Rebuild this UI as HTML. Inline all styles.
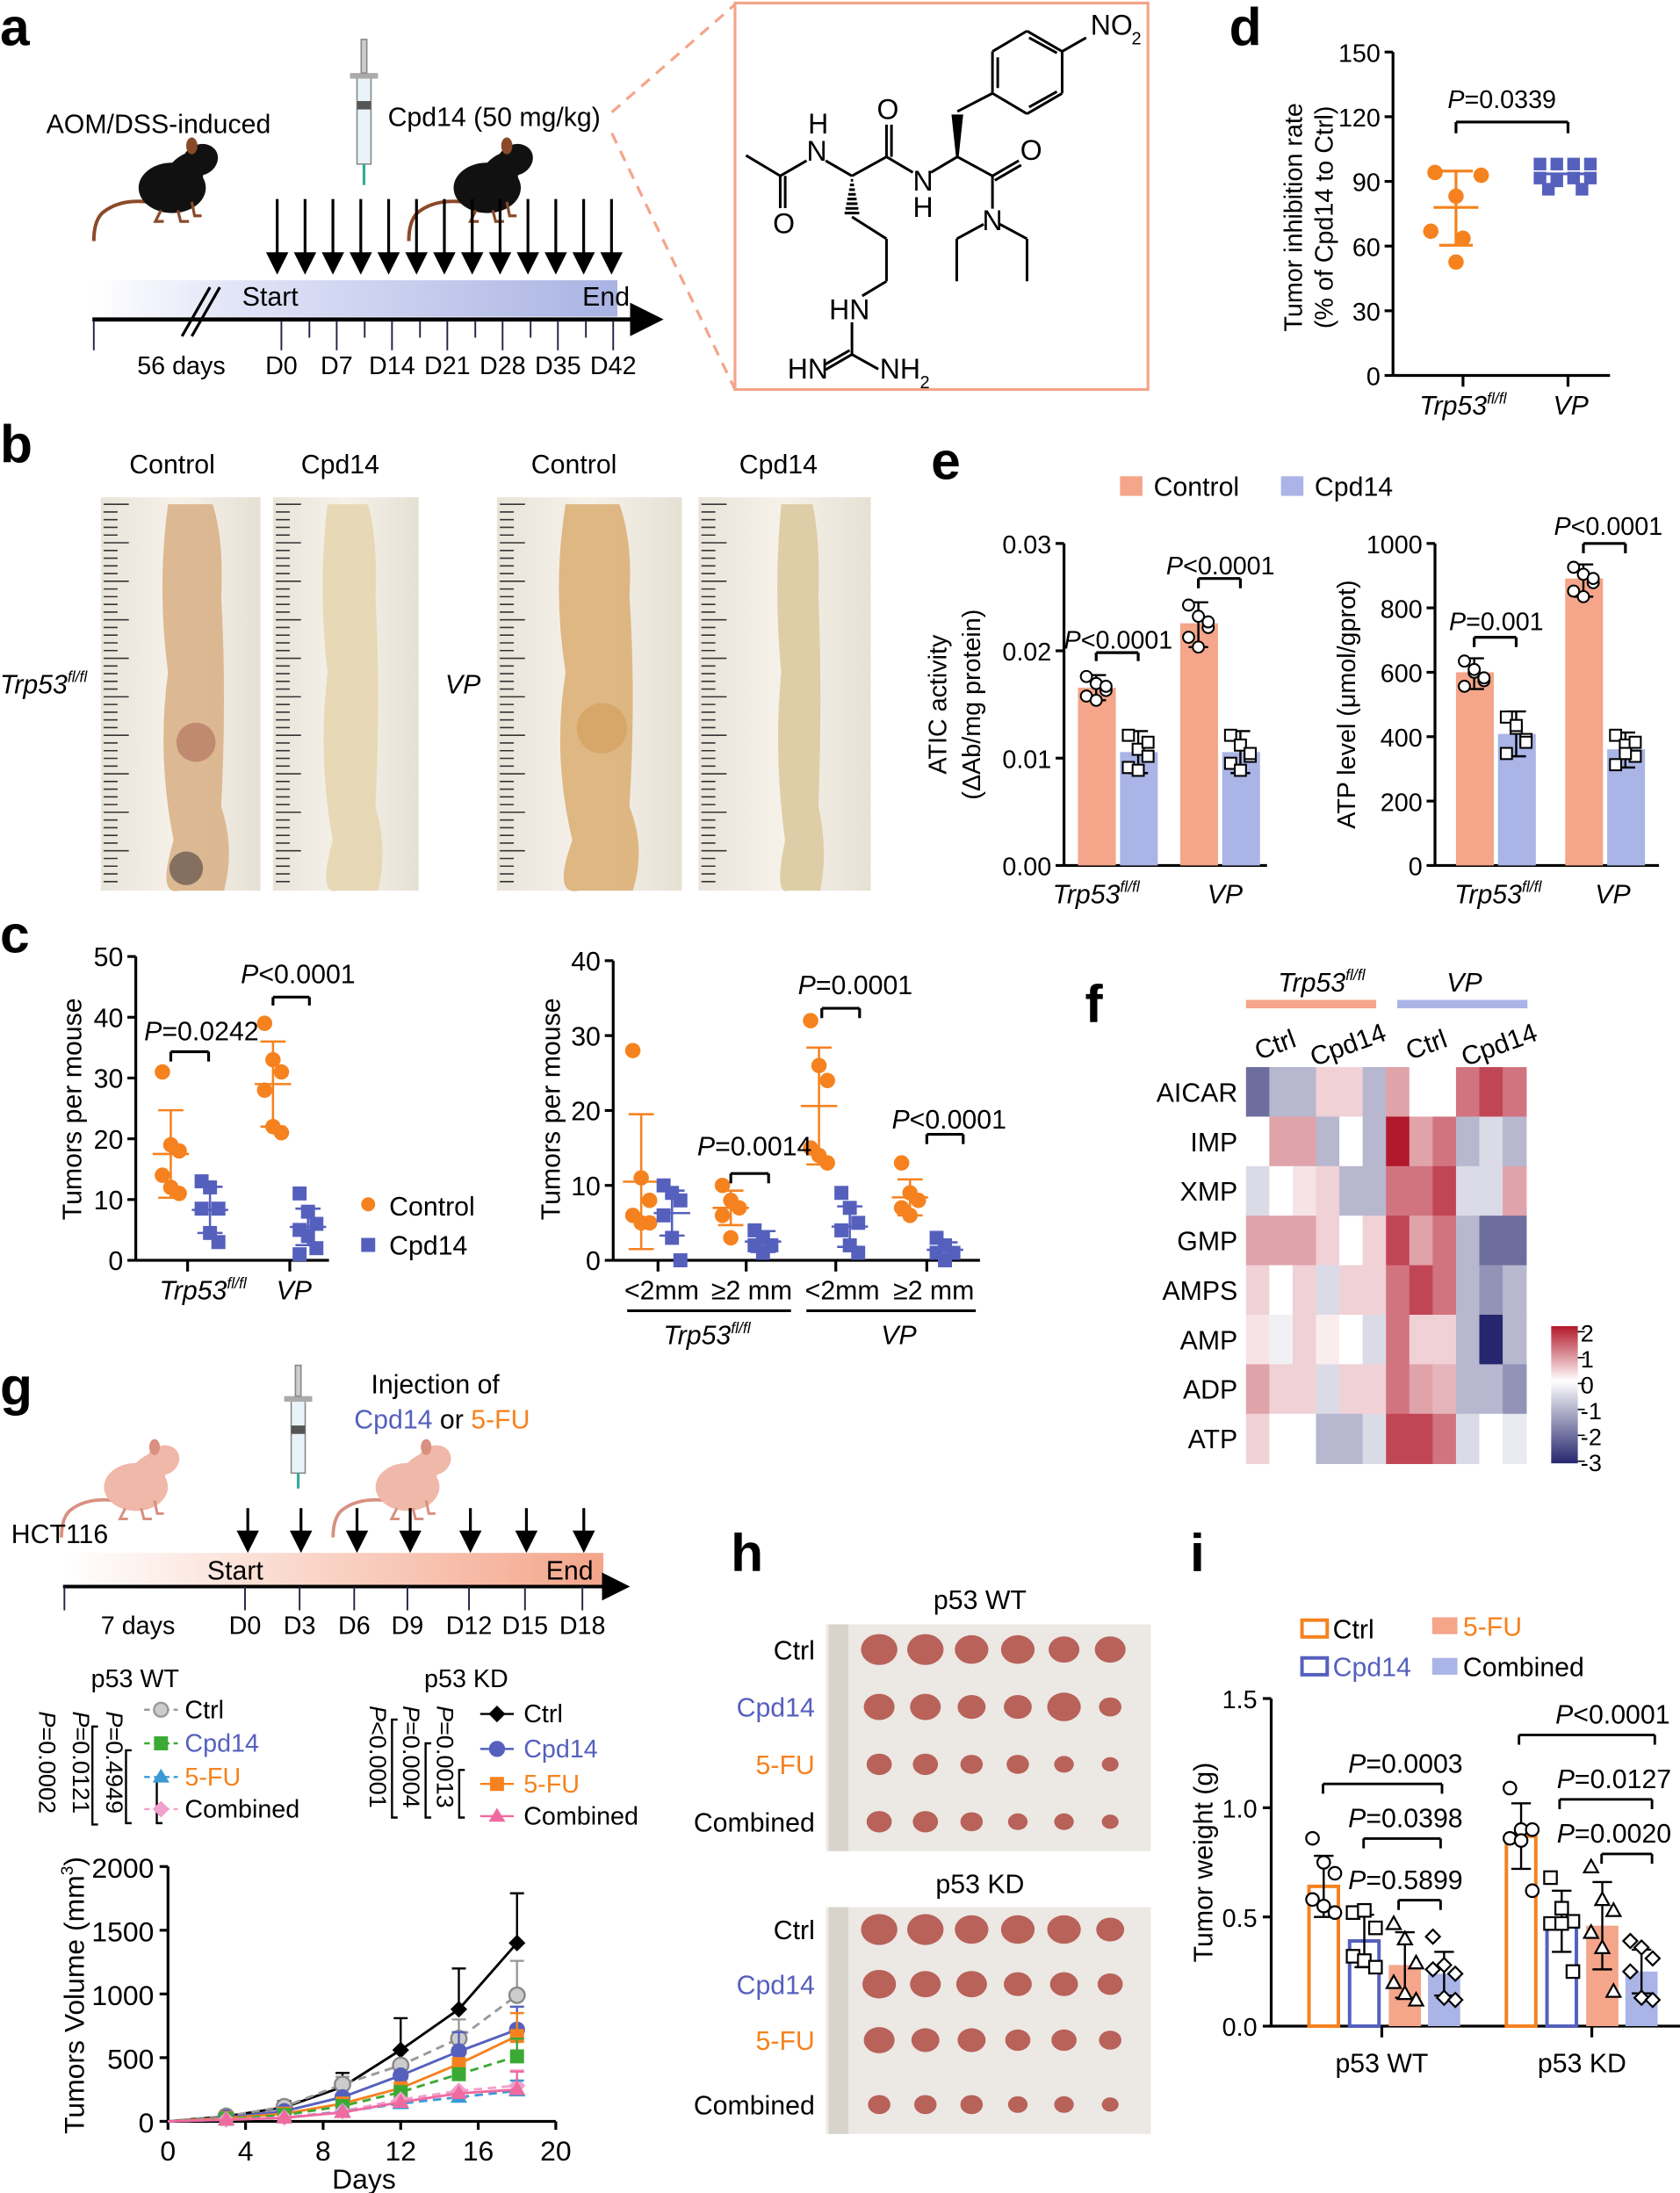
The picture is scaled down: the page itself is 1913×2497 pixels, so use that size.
<!DOCTYPE html>
<html><head><meta charset="utf-8">
<style>
html,body{margin:0;padding:0;background:#fff;}
svg{display:block;font-family:"Liberation Sans",Arial,sans-serif;}
</style></head>
<body>
<svg id="s" width="1913" height="2497" viewBox="0 0 1200 1566" xmlns="http://www.w3.org/2000/svg">
<defs>
<linearGradient id="gA" x1="0" x2="1"><stop offset="0" stop-color="#fff"/><stop offset="0.3" stop-color="#dfe2f6"/><stop offset="1" stop-color="#a9b3e3"/></linearGradient>
<linearGradient id="gG" x1="0" x2="1"><stop offset="0" stop-color="#fff"/><stop offset="1" stop-color="#f4a58a"/></linearGradient>
<linearGradient id="cb" x1="0" y1="0" x2="0" y2="1"><stop offset="0" stop-color="#b2182b"/><stop offset="0.4" stop-color="#fff"/><stop offset="1" stop-color="#26266e"/></linearGradient>
<linearGradient id="col" x1="0" x2="1"><stop offset="0" stop-color="#e9e4da"/><stop offset="0.5" stop-color="#f6f2ea"/><stop offset="1" stop-color="#e6e0d4"/></linearGradient>
<marker id="ah" markerWidth="8" markerHeight="8" refX="6" refY="4" orient="auto"><path d="M0,0 L8,4 L0,8z" fill="#000"/></marker>
</defs>
<g id="root" font-size="19"></g>
</svg>
<script>
var o=[];
function t(x,y,s,a){o.push('<text x="'+x+'" y="'+y+'" '+(a||'')+'>'+s+'</text>');}
function l(x1,y1,x2,y2,a){a=a||'';var d='';if(a.indexOf('stroke=')<0)d+=' stroke="#000"';if(a.indexOf('stroke-width')<0)d+=' stroke-width="2"';o.push('<line x1="'+x1+'" y1="'+y1+'" x2="'+x2+'" y2="'+y2+'"'+d+' '+a+'/>');}
function r(x,y,w,h,a){o.push('<rect x="'+x+'" y="'+y+'" width="'+w+'" height="'+h+'" '+a+'/>');}
function p(d,a){o.push('<path d="'+d+'" '+a+'/>');}
function c(x,y,rr,a){o.push('<circle cx="'+x+'" cy="'+y+'" r="'+rr+'" '+a+'/>');}
var OR='#f5821f',BL='#5560bd',SAL='#f4a58a',LBL='#aab4e6';
function lab(s,x,y){t(x,y,s,'font-size="38" font-weight="bold"');}
// ---------- a
lab('a',0,32);
t(33,95,'AOM/DSS-induced','font-size="19"');
t(277,90,'Cpd14 (50 mg/kg)','font-size="19"');
function mouse(x,y,fill,tc,s){s=s||1;o.push('<g transform="translate('+x+','+y+') scale('+s+')">'+
 '<path d="M40,52 q-20,-2 -32,8 q-6,6 -6,20" fill="none" stroke="'+tc+'" stroke-width="2.5"/>'+
 '<ellipse cx="58" cy="42" rx="24" ry="18" fill="'+fill+'"/>'+
 '<ellipse cx="78" cy="22" rx="13" ry="11" transform="rotate(-25 78 22)" fill="'+fill+'"/>'+
 '<path d="M58,24 q10,-10 22,-8 l0,20z" fill="'+fill+'"/>'+
 '<ellipse cx="72" cy="12" rx="4" ry="6" fill="'+tc+'"/>'+
 '<path d="M50,58 l-4,8 h6 M62,58 l2,8 h6 M72,52 l2,10 h5" fill="none" stroke="'+tc+'" stroke-width="2"/></g>');}
mouse(65,92,'#111','#8a4a2a');mouse(290,92,'#111','#8a4a2a');
// syringe
r(255,55,10,62,'fill="#e8f4fa" stroke="#888"');r(250,52,20,4,'fill="#aaa"');r(258,28,4,24,'fill="#ccc" stroke="#888"');r(255,72,10,6,'fill="#555"');l(260,117,260,132,'stroke="#3a9" stroke-width="2"');
for(var i=0;i<13;i++){var ax=198+i*19.9;l(ax,142,ax,192,'marker-end="url(#ah)"');}
r(65,200,376,26,'fill="url(#gA)"');
l(66,228,468,228,'stroke-width="3" marker-end="url(#ah)"');
l(130,240,150,205,'stroke-width="2"');l(137,240,157,205,'stroke-width="2"');
t(173,218,'Start');t(416,218,'End');
l(67,229,67,250,'stroke="#224" stroke-width="1.2"');
var dl=['D0','D7','D14','D21','D28','D35','D42'];
for(var i=0;i<7;i++){var x=201+i*39.5;l(x,229,x,250,'stroke="#224" stroke-width="1.2"');if(i<6)l(x+20,229,x+20,241,'stroke="#224" stroke-width="1.2"');t(x,267,dl[i],'text-anchor="middle" font-size="18"');}
t(98,267,'56 days','font-size="18"');
// structure box
r(525,2,295,276,'fill="none" stroke="'+SAL+'" stroke-width="2"');
l(437,80,525,3,'stroke="'+SAL+'" stroke-dasharray="8,6"');l(437,95,525,278,'stroke="'+SAL+'" stroke-dasharray="8,6"');
(function(){var g=[];function L(a,b,c2,d){g.push('<line x1="'+a+'" y1="'+b+'" x2="'+c2+'" y2="'+d+'"/>');}
L(148,530,265,600);L(265,600,265,710);L(282,600,282,710);L(265,600,355,548);L(420,548,510,600);L(510,600,628,535);L(628,535,628,425);L(645,535,645,425);
L(628,535,718,588);L(780,588,870,535);L(870,380,990,318);L(990,318,990,175);L(990,175,1108,105);L(1108,105,1228,175);L(1228,175,1228,318);L(1228,318,1108,388);L(1108,388,990,318);
L(1008,195,1008,300);L(1115,128,1210,180);L(1115,365,1210,312);L(1228,175,1310,128);L(870,535,990,600);L(990,600,1080,548);L(998,615,1088,563);L(990,600,990,712);
L(960,765,868,815);L(868,815,868,960);L(1015,765,1108,815);L(1108,815,1108,960);L(510,740,628,815);L(628,815,628,960);L(628,960,545,1010);L(510,1100,510,1210);L(510,1210,600,1260);L(510,1210,420,1262);L(502,1196,415,1246);
for(var k=0;k<8;k++){var yy=615+k*16,w=4+k*3;L(510-w,yy,510+w,yy);}
o.push('<g transform="translate(501.9,0) scale(0.2091)" stroke="#000" stroke-width="9" font-size="96">'+g.join('')+'<path d="M870,535 L855,395 L885,395z" fill="#000"/>'+
'<g stroke="none"><text x="240" y="795">O</text><text x="360" y="455">H</text><text x="355" y="548">N</text><text x="595" y="405">O</text><text x="718" y="650">N</text><text x="718" y="740">H</text><text x="1085" y="545">O</text><text x="955" y="785">N</text><text x="1325" y="118">NO</text><text x="1465" y="150" font-size="60">2</text><text x="432" y="1090">HN</text><text x="290" y="1292">HN</text><text x="605" y="1292">NH</text><text x="742" y="1325" font-size="60">2</text></g></g>');
})();
// ---------- d
lab('d',878,32);
function yaxis(x,y0,y1,ticks,fs){l(x,y0,x,y1);for(var i=0;i<ticks.length;i++){var yy=y0+(y1-y0)*i/(ticks.length-1);l(x-6,yy,x,yy);t(x-9,yy+7,ticks[i],'text-anchor="end" font-size="'+(fs||19)+'"');}}
yaxis(995,268,37,['0','30','60','90','120','150'],18);
l(995,268,1150,268);l(1045,268,1045,276);l(1120,268,1120,276);
t(930,155,'Tumor inhibition rate','transform="rotate(-90 930 155)" text-anchor="middle" font-size="18"');
t(952,155,'(% of Cpd14 to Ctrl)','transform="rotate(-90 952 155)" text-anchor="middle" font-size="18"');
[[1025,123],[1058,125],[1040,140],[1022,165],[1045,170],[1040,187]].forEach(function(q){c(q[0],q[1],5.5,'fill="'+OR+'"');});
l(1040,122,1040,175,'stroke="'+OR+'"');l(1028,122,1052,122,'stroke="'+OR+'"');l(1024,148,1056,148,'stroke="'+OR+'"');l(1028,175,1052,175,'stroke="'+OR+'"');
[[1100,117],[1112,117],[1124,117],[1136,117],[1100,127],[1112,129],[1124,127],[1136,127],[1106,135],[1130,135]].forEach(function(q){r(q[0]-4.5,q[1]-4.5,9,9,'fill="'+BL+'"');});
l(1104,124,1132,124,'stroke="'+BL+'"');
l(1040,87,1040,95);l(1040,87,1120,87);l(1120,87,1120,95);t(1034,77,'<tspan font-style="italic">P</tspan>=0.0339','font-size="18"');
t(1045,296,'<tspan font-style="italic">Trp53</tspan><tspan font-size="11" dy="-8" font-style="italic">fl/fl</tspan>','text-anchor="middle" font-size="19"');
t(1122,296,'VP','text-anchor="middle" font-style="italic" font-size="19"');
// ---------- b
lab('b',0,330);
t(123,338,'Control','text-anchor="middle"');t(243,338,'Cpd14','text-anchor="middle"');t(410,338,'Control','text-anchor="middle"');t(556,338,'Cpd14','text-anchor="middle"');
t(0,495,'<tspan font-style="italic">Trp53</tspan><tspan font-size="11" dy="-8" font-style="italic">fl/fl</tspan>','font-size="19"');t(318,495,'VP','font-style="italic"');
function photo(x,w,cx,cw,col){r(x,355,w,281,'fill="url(#col)"');
 var rl=[];for(var y=360;y<632;y+=5.5){rl.push('<line x1="'+(x+2)+'" y1="'+y+'" x2="'+(x+((Math.round((y-360)/5.5)%5==0)?20:12))+'" y2="'+y+'"/>');}
 o.push('<g stroke="#333" stroke-width="1">'+rl.join('')+'</g>');
 p('M'+(cx-cw*0.5)+',360 q'+(-cw*0.2)+',60 0,120 q'+(-cw*0.2)+',60 '+(cw*0.1)+',120 q'+(-cw*0.3)+',40 '+(cw*0.1)+',36 l'+(cw*0.8)+',0 q'+(cw*0.2)+',-30 '+(-cw*0.05)+',-60 q'+(cw*0.1)+',-80 0,-150 q'+(cw*0.05)+',-40 '+(-cw*0.15)+',-66z','fill="'+col+'" opacity="0.9"');}
photo(72,114,140,40,'#d9b28a');photo(195,104,252,36,'#e6d6b0');photo(355,132,428,48,'#dcb078');photo(499,123,572,28,'#dccaa0');
c(140,530,14,'fill="#c08a70"');c(430,520,18,'fill="#d4a060" opacity="0.7"');c(133,620,12,'fill="#4a4040" opacity="0.6"');
// ---------- e
lab('e',665,342);
r(800,340,16,14,'fill="'+SAL+'"');t(824,354,'Control');r(915,340,16,14,'fill="'+LBL+'"');t(939,354,'Cpd14');
function ebar(x,w,top,y0,fill){r(x,top,w,y0-top,'fill="'+fill+'"');}
yaxis(760,618,388,['0.00','0.01','0.02','0.03'],18);l(760,618,905,618);
t(676,503,'ATIC activity','transform="rotate(-90 676 503)" text-anchor="middle" font-size="18"');
t(700,503,'(ΔAb/mg protein)','transform="rotate(-90 700 503)" text-anchor="middle" font-size="18"');
function dots(x,ys,shape){ys.forEach(function(yy,i){var xx=x+((i%3)-1)*7;if(shape=='c')c(xx,yy,4,'fill="#fff" stroke="#000" stroke-width="1.3"');else r(xx-4,yy-4,8,8,'fill="#fff" stroke="#000" stroke-width="1.3"');});}
function err(x,a,b,m){l(x,a,x,b,'stroke-width="1.5"');l(x-7,a,x+7,a,'stroke-width="1.5"');l(x-7,b,x+7,b,'stroke-width="1.5"');}
ebar(770,27,491,618,SAL);ebar(800,27,537,618,LBL);ebar(843,27,445,618,SAL);ebar(873,27,537,618,LBL);
err(783,482,500);dots(783,[483,488,493,497,500,490],'c');err(813,522,552);dots(813,[525,535,540,548,550,530],'s');
err(856,430,462);dots(856,[432,440,448,455,462,444],'c');err(886,522,552);dots(886,[525,532,540,545,550,538],'s');
l(783,466,783,472);l(783,466,813,466);l(813,466,813,472);t(760,463,'<tspan font-style="italic">P</tspan>&lt;0.0001','font-size="18"');
l(856,413,856,420);l(856,413,886,413);l(886,413,886,420);t(833,410,'<tspan font-style="italic">P</tspan>&lt;0.0001','font-size="18"');
t(783,645,'<tspan font-style="italic">Trp53</tspan><tspan font-size="11" dy="-8" font-style="italic">fl/fl</tspan>','text-anchor="middle"');t(875,645,'VP','text-anchor="middle" font-style="italic"');
yaxis(1025,618,388,['0','200','400','600','800','1000'],18);l(1025,618,1185,618);
t(968,503,'ATP level (μmol/gprot)','transform="rotate(-90 968 503)" text-anchor="middle" font-size="18"');
ebar(1040,27,480,618,SAL);ebar(1070,27,524,618,LBL);ebar(1118,27,413,618,SAL);ebar(1148,27,535,618,LBL);
err(1053,470,492);dots(1053,[472,480,486,490,478,484],'c');err(1083,508,540);dots(1083,[512,520,528,538,518,530],'s');
err(1131,403,426);dots(1131,[405,410,416,422,426,413],'c');err(1161,523,548);dots(1161,[525,532,540,546,538,530],'s');
l(1053,455,1053,462);l(1053,455,1083,455);l(1083,455,1083,462);t(1035,450,'<tspan font-style="italic">P</tspan>=0.001','font-size="18"');
l(1131,388,1131,395);l(1131,388,1161,388);l(1161,388,1161,395);t(1110,382,'<tspan font-style="italic">P</tspan>&lt;0.0001','font-size="18"');
t(1070,645,'<tspan font-style="italic">Trp53</tspan><tspan font-size="11" dy="-8" font-style="italic">fl/fl</tspan>','text-anchor="middle"');t(1152,645,'VP','text-anchor="middle" font-style="italic"');
// ---------- c
lab('c',0,680);
function dotsC(x,vals,y0,k,shape,col){vals.forEach(function(v,i){var xx=x+((i%3)-1)*6;var yy=y0-v*k;if(shape=='c')c(xx,yy,5.5,'fill="'+col+'"');else r(xx-5,yy-5,10,10,'fill="'+col+'"');});}
function errC(x,m,sd,y0,k,col){l(x,y0-(m+sd)*k,x,y0-(m-sd)*k,'stroke="'+col+'" stroke-width="1.6"');[m+sd,m,m-sd].forEach(function(v,i){var w=i==1?13:9;l(x-w,y0-v*k,x+w,y0-v*k,'stroke="'+col+'" stroke-width="1.6"');});}
yaxis(97,900,683,['0','10','20','30','40','50']);l(97,900,235,900);l(134,900,134,908);l(207,900,207,908);
t(58,792,'Tumors per mouse','transform="rotate(-90 58 792)" text-anchor="middle"');
var k1=4.34;
dotsC(122,[31,19,18,14,12,11],900,k1,'c',OR);errC(122,17.5,7.2,900,k1,OR);
dotsC(150,[13,12,8.5,8.5,4.5,3],900,k1,'s',BL);errC(150,8.3,3.8,900,k1,BL);
dotsC(195,[39,33,31,28,22,21],900,k1,'c',OR);errC(195,29,7,900,k1,OR);
dotsC(220,[11,8,6,5,4,2,1],900,k1,'s',BL);errC(220,5.5,3,900,k1,BL);
l(122,751,122,758);l(122,751,149,751);l(149,751,149,758);t(103,743,'<tspan font-style="italic">P</tspan>=0.0242');
l(195,712,195,718);l(195,712,221,712);l(221,712,221,718);t(172,702,'<tspan font-style="italic">P</tspan>&lt;0.0001');
t(145,928,'<tspan font-style="italic">Trp53</tspan><tspan font-size="11" dy="-8" font-style="italic">fl/fl</tspan>','text-anchor="middle"');t(210,928,'VP','text-anchor="middle" font-style="italic"');
c(263,860,5,'fill="'+OR+'"');t(278,868,'Control');r(258,884,10,10,'fill="'+BL+'"');t(278,896,'Cpd14');
yaxis(438,900,686,['0','10','20','30','40']);l(438,900,700,900);
[470,533,597,662].forEach(function(x){l(x,900,x,908);});
t(400,792,'Tumors per mouse','transform="rotate(-90 400 792)" text-anchor="middle"');
var k2=5.35;
dotsC(458,[28,11,8,6,5,5],900,k2,'c',OR);errC(458,10.5,9,900,k2,OR);
dotsC(480,[10,9,8,6,3,0],900,k2,'s',BL);errC(480,6.3,3,900,k2,BL);
dotsC(522,[10,8,7,6,3],900,k2,'c',OR);errC(522,7,2.3,900,k2,OR);
dotsC(545,[4,3,2,2,1],900,k2,'s',BL);errC(545,2.5,1.4,900,k2,BL);
dotsC(585,[32,26,24,15,14,13],900,k2,'c',OR);errC(585,20.6,7.8,900,k2,OR);
dotsC(607,[9,7,5,4,2,1],900,k2,'s',BL);errC(607,4.5,2.7,900,k2,BL);
dotsC(650,[13,9,8,7,6],900,k2,'c',OR);errC(650,8.4,2.4,900,k2,OR);
dotsC(675,[3,2,1,1,0],900,k2,'s',BL);errC(675,1.4,1,900,k2,BL);
l(522,838,522,845);l(522,838,549,838);l(549,838,549,845);t(498,825,'<tspan font-style="italic">P</tspan>=0.0014');
l(587,720,587,727);l(587,720,614,720);l(614,720,614,727);t(570,710,'<tspan font-style="italic">P</tspan>=0.0001');
l(662,810,662,817);l(662,810,688,810);l(688,810,688,817);t(637,806,'<tspan font-style="italic">P</tspan>&lt;0.0001');
t(446,928,'&lt;2mm');t(508,928,'≥2 mm');t(575,928,'&lt;2mm');t(638,928,'≥2 mm');
l(448,936,565,936);l(576,936,697,936);
t(505,960,'<tspan font-style="italic">Trp53</tspan><tspan font-size="11" dy="-8" font-style="italic">fl/fl</tspan>','text-anchor="middle"');t(642,960,'VP','text-anchor="middle" font-style="italic"');
// ---------- f
lab('f',775,730);
r(890,714,93,6,'fill="'+SAL+'"');r(998,714,93,6,'fill="'+LBL+'"');
t(944,708,'<tspan font-style="italic">Trp53</tspan><tspan font-size="11" dy="-8" font-style="italic">fl/fl</tspan>','text-anchor="middle"');t(1046,708,'VP','text-anchor="middle" font-style="italic"');
[['Ctrl',913],['Cpd14',965],['Ctrl',1021],['Cpd14',1073]].forEach(function(q){t(q[1],752,q[0],'text-anchor="middle" transform="rotate(-20 '+q[1]+' 752)"');});
var rows=['AICAR','IMP','XMP','GMP','AMPS','AMP','ADP','ATP'];
var H=[[-2,-1,-1,0.5,0.5,-1,1,0,0,1.5,2,1.5],[0,1,1,-1,0,-1,2.5,1,1.5,-1,-0.5,-1],[-0.5,0,0.3,0.5,-1,-1,1.5,1.5,2,-0.5,-0.5,1],[1,1,1,0.5,0,0.5,2,1,1.5,-1,-2,-2],[0.5,0,0.5,-0.5,0.5,0.5,1.5,2,1.5,-1,-1.5,-1],[0.3,-0.2,0.5,0.2,0,-0.5,1.5,0.5,0.5,-1,-3,-1],[1,0.5,0.5,-0.5,0.5,0.5,1.5,1,0.8,-1,-1,-1.5],[0.5,0,0,-1,-1,-0.5,2,2,1.5,-0.5,0,-0.3]];
function hc(v){var a,b;if(v>=0){var f=Math.min(v/2.5,1);a=[255,255,255];b=[178,24,43];}else{var f=Math.min(-v/3,1);a=[255,255,255];b=[38,38,110];}return 'rgb('+a.map(function(z,i){return Math.round(z+(b[i]-z)*f);}).join(',')+')';}
var cw=200/12,rh=283/8;
for(var i=0;i<8;i++){t(884,762+rh*i+rh/2+7,rows[i],'text-anchor="end"');for(var j=0;j<12;j++)r(890+j*cw,762+i*rh,cw+0.5,rh+0.5,'fill="'+hc(H[i][j])+'"');}
r(1108,947,19,98,'fill="url(#cb)"');
['2','1','0','-1','-2','-3'].forEach(function(s,i){var yy=951+i*18.5;l(1127,yy,1132,yy,'stroke-width="1"');t(1129,yy+7,s,'font-size="17"');});
// ---------- g
lab('g',0,1003);
mouse(42,1022,'#f0b8a8','#d99080',0.95);mouse(236,1022,'#f0b8a8','#d99080',0.95);
r(208,1000,10,52,'fill="#e8f4fa" stroke="#888"');r(203,997,20,4,'fill="#aaa"');r(211,975,4,22,'fill="#ccc" stroke="#888"');r(208,1018,10,6,'fill="#555"');l(213,1052,213,1063,'stroke="#3a9"');
t(265,995,'Injection of');t(253,1020,'<tspan fill="'+BL+'">Cpd14</tspan> or <tspan fill="'+OR+'">5-FU</tspan>');
t(8,1102,'HCT116');
r(45,1109,386,23,'fill="url(#gG)"');l(45,1133,445,1133,'stroke-width="2.5" marker-end="url(#ah)"');
[177,215,255,293,336,376,417].forEach(function(x){l(x,1077,x,1105,'marker-end="url(#ah)"');});
t(148,1128,'Start');t(390,1128,'End');
l(46,1133,46,1150,'stroke="#224" stroke-width="1.2"');
var gl=['D0','D3','D6','D9','D12','D15','D18'];
[175,214,253,291,335,375,416].forEach(function(x,i){l(x,1133,x,1150,'stroke="#224" stroke-width="1.2"');t(x,1167,gl[i],'text-anchor="middle" font-size="18"');});
t(72,1167,'7 days','font-size="18"');
t(65,1205,'p53 WT','font-size="18"');t(303,1205,'p53 KD','font-size="18"');
function vt(x,y,s){t(x,y,s,'transform="rotate(90 '+x+' '+y+')" font-size="17"');}
vt(28,1222,'<tspan font-style="italic">P</tspan>=0.0002');vt(52,1222,'<tspan font-style="italic">P</tspan>=0.0121');vt(76,1222,'<tspan font-style="italic">P</tspan>=0.4949');
p('M70,1233 h-4 v70 h4 M94,1250 h-4 v52 h4 M116,1270 h-4 v32 h4','fill="none" stroke="#000" stroke-width="1.5"');
var wl=[['Ctrl','#000','#999','c',1227],['Cpd14',BL,'#3aaa35','s',1251],['5-FU',OR,'#3a9ad6','t',1275],['Combined','#000','#f0a0cc','d',1298]];
function mk(x,y,sh,col,fillw){if(sh=='c')c(x,y,5,'fill="'+(fillw||col)+'" stroke="'+col+'" stroke-width="1.5"');else if(sh=='s')r(x-5,y-5,10,10,'fill="'+col+'"');else if(sh=='t')p('M'+x+','+(y-6)+' l6,10 h-12z','fill="'+col+'"');else p('M'+x+','+(y-6)+' l6,6 -6,6 -6,-6z','fill="'+col+'"');}
wl.forEach(function(q){l(103,q[4]-6,127,q[4]-6,'stroke="'+q[2]+'" stroke-dasharray="4,3" stroke-width="1.5"');mk(115,q[4]-6,q[3],q[2],q[3]=='c'?'#ccc':null);t(132,q[4],q[0],'fill="'+q[1]+'" font-size="18"');});
vt(264,1218,'<tspan font-style="italic">P</tspan>&lt;0.0001');vt(288,1218,'<tspan font-style="italic">P</tspan>=0.0004');vt(312,1218,'<tspan font-style="italic">P</tspan>=0.0013');
p('M284,1228 h-4 v70 h4 M308,1245 h-4 v53 h4 M332,1264 h-4 v34 h4','fill="none" stroke="#000" stroke-width="1.5"');
var kl=[['Ctrl','#000','#000','d',1230],['Cpd14',BL,BL,'c',1255],['5-FU',OR,OR,'s',1280],['Combined','#000','#f06aa0','t',1303]];
kl.forEach(function(q){l(343,q[4]-6,367,q[4]-6,'stroke="'+q[2]+'" stroke-width="1.5"');mk(355,q[4]-6,q[3],q[2]);t(374,q[4],q[0],'fill="'+q[1]+'" font-size="18"');});
// line chart
l(120,1333,120,1515);l(120,1515,397,1515);
['0','500','1000','1500','2000'].forEach(function(s,i){var yy=1515-i*45.5;l(114,yy,120,yy);t(110,yy+8,s,'text-anchor="end" font-size="20"');});
['0','4','8','12','16','20'].forEach(function(s,i){var xx=120+i*55.4;l(xx,1515,xx,1521);t(xx,1543,s,'text-anchor="middle" font-size="20"');});
t(260,1563,'Days','text-anchor="middle" font-size="20"');
t(60,1425,'Tumors Volume (mm<tspan font-size="12" dy="-8">3</tspan><tspan dy="8">)</tspan>','transform="rotate(-90 60 1425)" text-anchor="middle" font-size="20"');
var days=[0,3,6,9,12,15,18];
function X(d){return 120+d*13.85;}function Y(v){return 1515-v*0.091;}
var S=[
['#000','',[0,40,110,270,560,880,1400],[0,0,50,110,250,320,390],'d'],
['#999','6,4',[0,40,115,290,440,650,990],[0,0,0,60,0,150,270],'c2'],
[BL,'',[0,30,80,190,360,550,720],[0,0,0,0,0,150,180],'c'],
[OR,'',[0,25,60,140,260,450,670],[0,0,0,0,0,0,180],'s'],
['#3aaa35','6,4',[0,20,50,120,230,370,510],[0,0,0,0,0,0,140],'s'],
['#f0a0cc','6,4',[0,15,30,80,170,240,280],[0,0,0,0,0,0,120],'d'],
['#3a9ad6','6,4',[0,12,28,75,140,190,240],[0,0,0,0,0,0,80],'t'],
['#f06aa0','',[0,12,28,70,150,220,250],[0,0,0,0,0,0,140],'t']];
S.forEach(function(s){var d='';s[2].forEach(function(v,i){d+=(i?'L':'M')+X(days[i]).toFixed(1)+','+Y(v).toFixed(1);if(s[3][i]){l(X(days[i]),Y(v),X(days[i]),Y(v+s[3][i]),'stroke="'+s[0]+'" stroke-width="1.5"');l(X(days[i])-5,Y(v+s[3][i]),X(days[i])+5,Y(v+s[3][i]),'stroke="'+s[0]+'" stroke-width="1.5"');}});
 p(d,'fill="none" stroke="'+s[0]+'" stroke-width="1.8" '+(s[1]?'stroke-dasharray="'+s[1]+'"':''));
 s[2].forEach(function(v,i){if(i==0)return;var x=X(days[i]),y=Y(v);if(s[4]=='c2')c(x,y,5.5,'fill="#ccc" stroke="#888" stroke-width="1.5"');else mk(x,y,s[4],s[0]);});});
// ---------- h
lab('h',522,1122);
t(700,1149,'p53 WT','text-anchor="middle" font-size="19"');t(700,1352,'p53 KD','text-anchor="middle" font-size="19"');
var hl=[['Ctrl','#000'],['Cpd14',BL],['5-FU',OR],['Combined','#000']];
function tray(y0,ys,szs){r(590,y0,232,162,'fill="#ece8e4"');r(592,y0,14,162,'fill="#d8d4cc"');
 for(var k=0;k<4;k++){var yy=ys[k];t(582,yy+7,hl[k][0],'text-anchor="end" fill="'+hl[k][1]+'" font-size="19"');
  for(var m=0;m<6;m++){var rr=szs[k][m];o.push('<ellipse cx="'+(628+m*33)+'" cy="'+yy+'" rx="'+rr+'" ry="'+(rr*0.85)+'" fill="#b8625a"/>');}}}
tray(1160,[1178,1219,1260,1301],[[13,13,12,12,11,11],[11,11,10,10,12,8],[9,9,8,8,7,6],[9,9,8,7,7,6]]);
tray(1362,[1378,1417,1457,1503],[[13,13,12,12,12,10],[12,11,11,10,10,9],[11,10,10,9,9,8],[8,8,8,7,7,6]]);
// ---------- i
lab('i',850,1122);
r(930,1157,18,12,'fill="none" stroke="'+OR+'" stroke-width="2.5"');t(952,1170,'Ctrl');r(1023,1155,18,12,'fill="'+SAL+'"');t(1045,1168,'5-FU','fill="'+OR+'"');
r(930,1184,18,12,'fill="none" stroke="'+BL+'" stroke-width="2.5"');t(952,1197,'Cpd14','fill="'+BL+'"');r(1023,1184,18,12,'fill="'+LBL+'"');t(1045,1197,'Combined');
l(908,1213,908,1447);l(908,1447,1200,1447);
['0.0','0.5','1.0','1.5'].forEach(function(s,i){var yy=1447-i*78;l(902,yy,908,yy);t(898,yy+7,s,'text-anchor="end" font-size="18"');});
l(987,1447,987,1455);l(1137,1447,1137,1455);
t(987,1480,'p53 WT','text-anchor="middle"');t(1130,1480,'p53 KD','text-anchor="middle"');
t(866,1330,'Tumor weight (g)','transform="rotate(-90 866 1330)" text-anchor="middle"');
function Yi(v){return 1447-v*156;}
var IB=[[934,0.64,'o',OR,[0.86,0.75,0.7,0.58,0.55,0.52],0.14,'c'],[963,0.39,'o',BL,[0.52,0.53,0.45,0.32,0.3,0.27],0.12,'s'],[992,0.28,'f',SAL,[0.47,0.4,0.29,0.2,0.15,0.12],0.15,'t'],[1020,0.24,'f',LBL,[0.41,0.28,0.24,0.26,0.13,0.12],0.1,'d'],
[1075,0.87,'o',OR,[1.09,0.9,0.9,0.86,0.85,0.62],0.15,'c'],[1104,0.48,'o',BL,[0.68,0.54,0.48,0.47,0.47,0.25],0.14,'s'],[1133,0.46,'f',SAL,[0.73,0.58,0.53,0.43,0.36,0.16],0.2,'t'],[1161,0.25,'f',LBL,[0.39,0.36,0.31,0.25,0.13,0.12],0.1,'d']];
IB.forEach(function(b){var x=b[0],w=23,cx=x+11.5;if(b[2]=='o')r(x+1,Yi(b[1]),w-2,Yi(0)-Yi(b[1]),'fill="none" stroke="'+b[3]+'" stroke-width="2.5"');else r(x,Yi(b[1]),w,Yi(0)-Yi(b[1]),'fill="'+b[3]+'"');
 err(cx,Yi(b[1]+b[5]),Yi(b[1]-b[5]));
 b[4].forEach(function(v,i){var xx=cx+((i%3)-1)*8,yy=Yi(v);if(b[6]=='c')c(xx,yy,4.5,'fill="#fff" stroke="#000" stroke-width="1.4"');else if(b[6]=='s')r(xx-4.5,yy-4.5,9,9,'fill="#fff" stroke="#000" stroke-width="1.4"');else if(b[6]=='t')p('M'+xx+','+(yy-5)+' l5,9 h-10z','fill="#fff" stroke="#000" stroke-width="1.4"');else p('M'+xx+','+(yy-5)+' l5,5 -5,5 -5,-5z','fill="#fff" stroke="#000" stroke-width="1.4"');});});
function br(x1,x2,y,s,tx){l(x1,y,x1,y+7,'stroke-width="1.8"');l(x1,y,x2,y,'stroke-width="1.8"');l(x2,y,x2,y+7,'stroke-width="1.8"');t(tx,y-8,s);}
br(945,1030,1274,'<tspan font-style="italic">P</tspan>=0.0003',963);
br(974,1029,1313,'<tspan font-style="italic">P</tspan>=0.0398',963);
br(999,1029,1357,'<tspan font-style="italic">P</tspan>=0.5899',963);
br(1085,1182,1239,'<tspan font-style="italic">P</tspan>&lt;0.0001',1111);
br(1114,1180,1285,'<tspan font-style="italic">P</tspan>=0.0127',1112);
br(1144,1180,1324,'<tspan font-style="italic">P</tspan>=0.0020',1112);
document.getElementById('root').innerHTML=o.join('');
</script>
</body></html>
